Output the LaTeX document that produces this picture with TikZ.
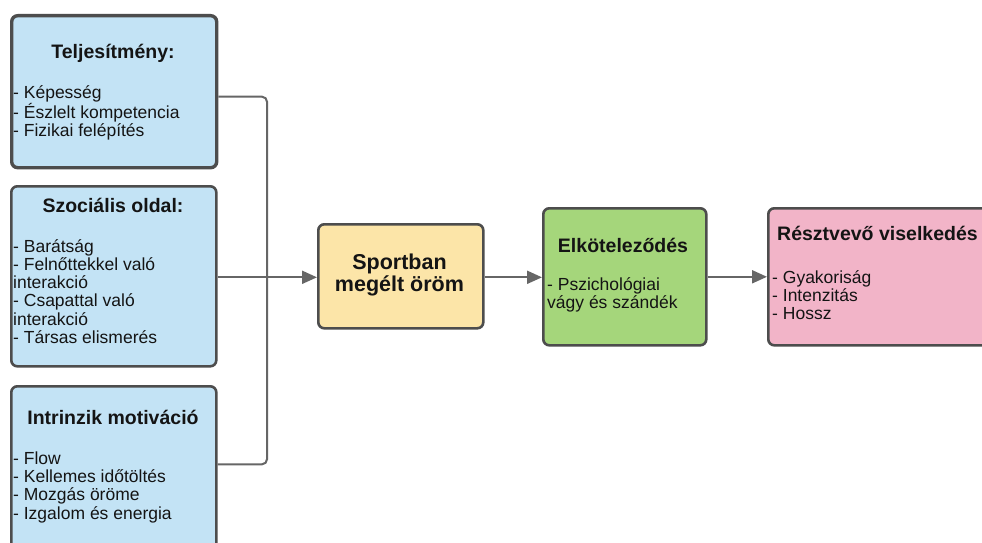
\documentclass[tikz,border=0pt]{standalone}
\usepackage{fontspec}
\setmainfont{Liberation Sans}
\usetikzlibrary{arrows.meta}
\definecolor{bfill}{HTML}{C3E3F5}
\definecolor{yfill}{HTML}{FCE5A8}
\definecolor{gfill}{HTML}{A5D67B}
\definecolor{pfill}{HTML}{F2B4C8}
\definecolor{bord}{HTML}{4D4D4D}
\definecolor{lcol}{HTML}{666666}
\definecolor{txt}{HTML}{141414}
\begin{document}
\begin{tikzpicture}[x=1pt,y=-1pt,
  box/.style={draw=bord, line width=2.6pt, rounded corners=6pt, inner sep=0pt, anchor=north west},
  ttl/.style={font=\fontsize{19.5}{22}\selectfont\bfseries, text=txt, inner sep=0pt, anchor=base},
  big/.style={font=\fontsize{21.5}{22}\selectfont\bfseries, text=txt, inner sep=0pt, align=center, anchor=base},
  body/.style={font=\fontsize{17.5}{18.3}\selectfont, text=txt, inner sep=0pt, align=left, anchor=base west},
  conn/.style={draw=lcol, line width=2pt},
  arr/.style={conn, -{Triangle[length=15pt,width=13pt]}}]
\useasboundingbox (0,0) rectangle (982,543);
\clip (0,0) rectangle (982,543);
\fill[white] (0,0) rectangle (982,543);
% boxes
\node[box, fill=bfill, minimum width=205pt, minimum height=152pt, line width=3.4pt] (b1) at (10,14) {};
\node[box, fill=bfill, minimum width=205pt, minimum height=180pt] (b2) at (10,185) {};
\node[box, fill=bfill, minimum width=205pt, minimum height=185pt] (b3) at (10,385) {};
\node[box, fill=yfill, minimum width=165pt, minimum height=104pt] (y) at (317,223) {};
\node[box, fill=gfill, minimum width=163pt, minimum height=137pt] (g) at (542,207) {};
\node[box, fill=pfill, minimum width=233pt, minimum height=137pt] (p) at (767,207) {};
% texts (multi-line nodes are placed by the baseline of their last line)
\node[ttl] (t1) at (113,58.5) {Teljesítmény:};
\node[body] (l1) at (13,136.6) {- Képesség\\- Észlelt kompetencia\\- Fizikai felépítés};
\node[ttl] (t2) at (113,212) {Szociális oldal:};
\node[body] (l2) at (13,343.5) {- Barátság\\- Felnőttekkel való\\interakció\\- Csapattal való\\interakció\\- Társas elismerés};
\node[ttl] (t3) at (113,424) {Intrinzik motiváció};
\node[body] (l3) at (13,519) {- Flow\\- Kellemes időtöltés\\- Mozgás öröme\\- Izgalom és energia};
\node[big] (ty) at (399.5,291) {Sportban\\megélt öröm};
\node[ttl] (tg) at (623,252) {Elköteleződés};
\node[body] (lg) at (547,308.3) {- Pszichológiai\\vágy és szándék};
\node[ttl, anchor=base west] (tp) at (777,240) {Résztvevő viselkedés};
\node[body] (lp) at (772,319.6) {- Gyakoriság\\- Intenzitás\\- Hossz};
% connectors
\coordinate (j) at (267,276);
\draw[conn, rounded corners=5pt] ([yshift=-5pt]b1.east) -| (j) |- ([yshift=14.5pt]b3.east);
\draw[arr] ([yshift=-1pt]b2.east) -- ([yshift=-1pt]y.west);
\draw[arr] ([yshift=-1pt]y.east) -- ([yshift=-1pt]y.east -| g.west);
\draw[arr] (g.east) -- (p.west);
\end{tikzpicture}
\end{document}
